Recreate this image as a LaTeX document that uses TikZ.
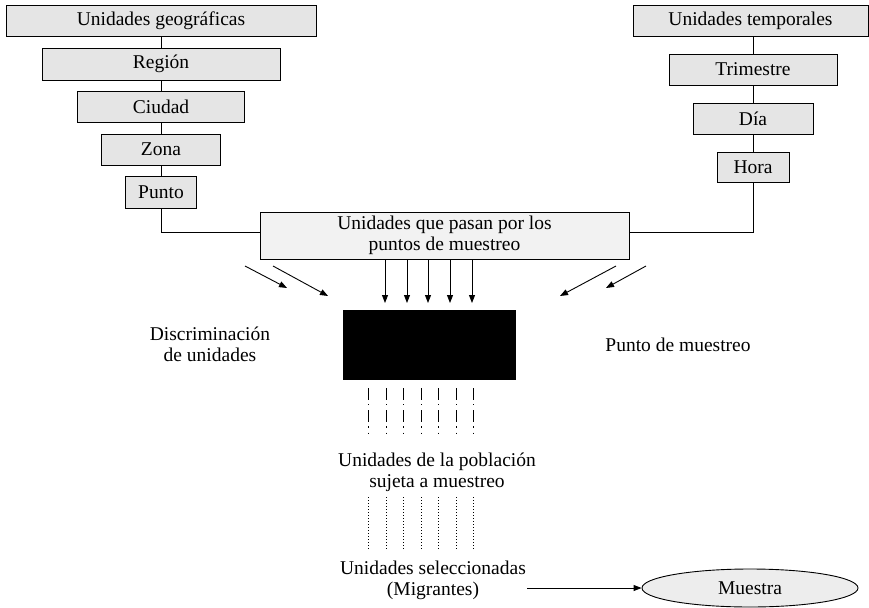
\documentclass[tikz,border=0pt]{standalone}
\usepackage{fontspec}
\setmainfont{Liberation Serif}
\usetikzlibrary{arrows.meta,shapes.geometric}
\begin{document}
\begin{tikzpicture}[x=1pt,y=-1pt,
  ubox/.style={draw, line width=0.9pt, fill=black!10, inner sep=0pt, anchor=center,
    font=\fontsize{19.5}{21}\selectfont},
  lbl/.style={align=center, inner sep=0pt, font=\fontsize{19.5}{21}\selectfont},
  conn/.style={line width=0.9pt},
  arr/.style={line width=0.9pt, -{Triangle[length=8pt,width=6pt]}},
  dd/.style={line width=1pt, dash pattern=on 12pt off 4pt on 1.3pt off 5pt},
  dt/.style={line width=1pt, dash pattern=on 1.2pt off 1.8pt}]
\useasboundingbox (0,0) rectangle (869,607);
% left hierarchy
\node[ubox, minimum width=310pt, minimum height=31pt] (geo) at (161,20.5) {Unidades geográficas};
\node[ubox, minimum width=238pt, minimum height=32pt] (reg) at (161,64) {Región};
\node[ubox, minimum width=167pt, minimum height=31pt] (ciu) at (161,106.5) {Ciudad};
\node[ubox, minimum width=119pt, minimum height=31pt] (zon) at (161,149.5) {Zona};
\node[ubox, minimum width=71pt, minimum height=32pt] (pun) at (161,192) {Punto};
% right hierarchy
\node[ubox, minimum width=235pt, minimum height=31pt] (tem) at (750.5,20.5) {Unidades temporales};
\node[ubox, minimum width=168pt, minimum height=31pt] (tri) at (753,69.5) {Trimestre};
\node[ubox, minimum width=120pt, minimum height=31pt] (dia) at (753,118.5) {Día};
\node[ubox, minimum width=72pt, minimum height=30pt] (hor) at (753,167) {Hora};
% center
\node[ubox, fill=black!5, align=center, minimum width=369pt, minimum height=47pt] (cen) at (444.5,235.5)
  {Unidades que pasan por los\\puntos de muestreo};
\node[draw=black, fill=black, minimum width=172pt, minimum height=69pt, inner sep=0pt] (blk) at (429,344.5) {};
% connectors
\draw[conn] (geo.south) -- (reg.north);
\draw[conn] (reg.south) -- (ciu.north);
\draw[conn] (ciu.south) -- (zon.north);
\draw[conn] (zon.south) -- (pun.north);
\draw[conn] (tem.south -| tri.north) -- (tri.north);
\draw[conn] (tri.south) -- (dia.north);
\draw[conn] (dia.south) -- (hor.north);
\coordinate (cl) at ([yshift=3.5pt]cen.west);
\coordinate (cr) at ([yshift=3.5pt]cen.east);
\draw[conn] (pun.south) |- (cl);
\draw[conn] (hor.south) |- (cr);
% arrows into black box
\foreach \x in {385,407,428,450,472}
  \draw[arr] (\x,0 |- cen.south) -- (\x,303);
% diagonal arrows
\draw[arr] (245,266) -- (287,288);
\draw[arr] (273,266) -- (328,296);
\draw[arr] (616,266) -- (560,296);
\draw[arr] (646,266) -- (606,288);
% labels
\node[lbl] (disc) at (210,344) {Discriminación\\de unidades};
\node[lbl] (pm) at (678,345) {Punto de muestreo};
% dash-dot lines
\foreach \x in {368,386,403,421,438,456,473}
  \draw[dd] (\x,388) -- (\x,434);
\node[lbl] (pob) at (437,472) {Unidades de la población\\sujeta a muestreo};
\foreach \x in {368,386,403,421,438,456,473}
  \draw[dt] (\x,497) -- (\x,550);
\node[lbl] (sel) at (433,580) {Unidades seleccionadas\\(Migrantes)};
\node[draw, ellipse, line width=0.9pt, fill=black!7, minimum width=216pt, minimum height=38pt, inner sep=0pt,
  font=\fontsize{19.5}{21}\selectfont] (mue) at (750,588) {Muestra};
\coordinate (as) at (527,588);
\draw[arr] (as) -- (mue.west);
\end{tikzpicture}
\end{document}
